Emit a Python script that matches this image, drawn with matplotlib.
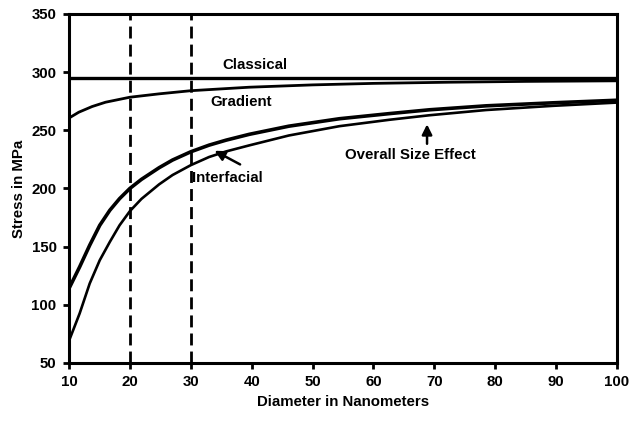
import matplotlib
matplotlib.use("Agg")
import matplotlib.pyplot as plt

plt.rcParams['font.family'] = ['Liberation Sans', 'DejaVu Sans']
plt.rcParams['font.weight'] = 'bold'

# values
diam_grad = [10, 11.6, 13.8, 16, 20, 24.8, 30, 39.6, 50, 60, 72.5, 85, 100]
gradient = [260.5, 265.5, 270.4, 274.1, 278.4, 281.3, 284, 287, 289, 290.3, 291.3, 292, 292.5]

diam = [10, 11.75, 13.4, 15.05, 16.7, 18.3, 20, 21.9, 24.8, 27, 30, 33, 35.8, 39.6, 46.1, 54.4, 62.6, 69.2, 78.5, 89.5, 100]
interfacial = [114, 132.6, 151.2, 168.3, 181.2, 191.2, 200, 207.8, 217.8, 224.4, 231.5, 237.2, 241.5, 246.5, 253.5, 259.9, 264.3, 267.6, 271, 273.6, 275.8]
overall = [69, 92.6, 118.3, 138.3, 154, 168.3, 180.5, 191, 203.5, 211.5, 220, 227, 231.8, 237, 245.5, 253.5, 259, 262.9, 267.4, 271, 273.8]

diam_classical = [10, 100]
classical = [295, 295]

dashed_at = [20, 30]

fs = 10.8

fig = plt.figure(figsize=(6.39, 4.22), dpi=100)
ax = fig.add_axes([0.108, 0.14, 0.8576, 0.827])

ax.plot(diam_classical, classical, color='black', linewidth=2.4)
ax.plot(diam_grad, gradient, color='black', linewidth=2.0)
ax.plot(diam, interfacial, color='black', linewidth=2.6)
ax.plot(diam, overall, color='black', linewidth=1.9)
for xv in dashed_at:
    ax.axvline(xv, color='black', linewidth=2.0, linestyle=(0, (4.3, 2.2)))

ax.set_xlim(10, 100)
ax.set_ylim(50, 350)
ax.set_xticks(range(10, 101, 10))
ax.set_yticks(range(50, 351, 50))
for s in ax.spines.values():
    s.set_linewidth(2.2)
ax.tick_params(direction='out', length=4, width=2, labelsize=fs, pad=5)

ax.set_xlabel('Diameter in Nanometers', fontsize=fs, fontweight='bold', labelpad=4)
ax.set_ylabel('Stress in MPa', fontsize=fs, fontweight='bold', labelpad=4)

ax.text(40.5, 306, 'Classical', fontsize=fs, fontweight='bold', ha='center', va='center')
ax.text(38.3, 274.5, 'Gradient', fontsize=fs, fontweight='bold', ha='center', va='center')
ax.text(30.2, 209, 'Interfacial', fontsize=fs, fontweight='bold', ha='left', va='center')
ax.text(66.1, 229, 'Overall Size Effect', fontsize=fs, fontweight='bold', ha='center', va='center')

ax.annotate('', xy=(33.5, 233.5), xytext=(38.5, 219.5),
            arrowprops=dict(arrowstyle='-|>', color='black', lw=1.8, mutation_scale=15))
ax.annotate('', xy=(68.8, 257.5), xytext=(68.8, 236),
            arrowprops=dict(arrowstyle='-|>', color='black', lw=1.8, mutation_scale=15))

fig.savefig('out.png', dpi=100)
